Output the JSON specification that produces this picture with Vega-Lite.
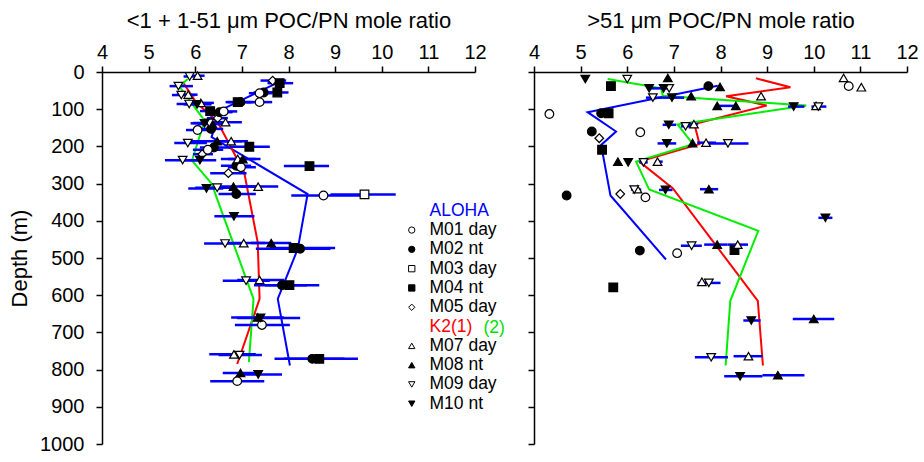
{
  "$schema": "https://vega.github.io/schema/vega-lite/v6.json",
  "autosize": {"type": "pad"},
  "padding": {"left": 8, "top": 9, "right": 5, "bottom": 5},
  "background": "white",
  "spacing": 59,
  "bounds": "flush",
  "datasets": {
    "pts": [
      {"p":"L","c":"M05 day","x":7.66,"d":23,"lo":7.40,"hi":7.95},
      {"p":"L","c":"M05 day","x":6.48,"d":124,"lo":6.25,"hi":6.70},
      {"p":"L","c":"M05 day","x":6.15,"d":221,"lo":5.95,"hi":6.38},
      {"p":"L","c":"M05 day","x":6.71,"d":272,"lo":6.32,"hi":7.10},
      {"p":"L","c":"M04 nt","x":7.81,"d":30,"lo":7.55,"hi":8.10},
      {"p":"L","c":"M04 nt","x":7.76,"d":55,"lo":7.50,"hi":8.00},
      {"p":"L","c":"M04 nt","x":6.91,"d":81,"lo":6.65,"hi":7.20},
      {"p":"L","c":"M04 nt","x":6.32,"d":105,"lo":6.10,"hi":6.55},
      {"p":"L","c":"M04 nt","x":7.16,"d":201,"lo":6.75,"hi":7.60},
      {"p":"L","c":"M04 nt","x":8.45,"d":253,"lo":7.90,"hi":8.87},
      {"p":"L","c":"M04 nt","x":8.11,"d":473,"lo":7.60,"hi":9.00},
      {"p":"L","c":"M04 nt","x":8.02,"d":573,"lo":7.50,"hi":8.66},
      {"p":"L","c":"M04 nt","x":8.66,"d":771,"lo":7.90,"hi":9.49},
      {"p":"L","c":"M02 nt","x":7.47,"d":55,"lo":7.25,"hi":7.75},
      {"p":"L","c":"M02 nt","x":6.97,"d":81,"lo":6.70,"hi":7.25},
      {"p":"L","c":"M02 nt","x":6.52,"d":108,"lo":6.25,"hi":6.80},
      {"p":"L","c":"M02 nt","x":6.34,"d":153,"lo":6.05,"hi":6.60},
      {"p":"L","c":"M02 nt","x":6.40,"d":203,"lo":6.10,"hi":6.75},
      {"p":"L","c":"M02 nt","x":6.88,"d":252,"lo":6.55,"hi":7.20},
      {"p":"L","c":"M02 nt","x":6.88,"d":328,"lo":6.50,"hi":7.30},
      {"p":"L","c":"M02 nt","x":8.25,"d":475,"lo":7.30,"hi":8.90},
      {"p":"L","c":"M02 nt","x":7.86,"d":573,"lo":7.26,"hi":8.40},
      {"p":"L","c":"M02 nt","x":8.51,"d":771,"lo":7.70,"hi":9.20},
      {"p":"L","c":"M01 day","x":7.38,"d":57,"lo":7.15,"hi":7.65},
      {"p":"L","c":"M01 day","x":7.38,"d":81,"lo":7.10,"hi":7.65},
      {"p":"L","c":"M01 day","x":6.61,"d":106,"lo":6.35,"hi":6.90},
      {"p":"L","c":"M01 day","x":6.05,"d":156,"lo":5.80,"hi":6.35},
      {"p":"L","c":"M01 day","x":6.27,"d":209,"lo":5.95,"hi":6.60},
      {"p":"L","c":"M01 day","x":6.98,"d":256,"lo":6.70,"hi":7.30},
      {"p":"L","c":"M01 day","x":8.75,"d":332,"lo":8.06,"hi":9.60},
      {"p":"L","c":"M01 day","x":7.43,"d":680,"lo":6.85,"hi":8.03},
      {"p":"L","c":"M01 day","x":6.90,"d":831,"lo":6.32,"hi":7.48},
      {"p":"L","c":"M03 day","x":9.63,"d":329,"lo":8.90,"hi":10.30},
      {"p":"L","c":"M07 day","x":6.05,"d":10,"lo":5.85,"hi":6.20},
      {"p":"L","c":"M07 day","x":5.85,"d":61,"lo":5.60,"hi":6.05},
      {"p":"L","c":"M07 day","x":6.12,"d":83,"lo":5.85,"hi":6.40},
      {"p":"L","c":"M07 day","x":6.65,"d":135,"lo":6.35,"hi":7.00},
      {"p":"L","c":"M07 day","x":6.77,"d":186,"lo":6.40,"hi":7.13},
      {"p":"L","c":"M07 day","x":6.91,"d":234,"lo":6.55,"hi":7.30},
      {"p":"L","c":"M07 day","x":7.35,"d":308,"lo":6.95,"hi":7.78},
      {"p":"L","c":"M07 day","x":7.04,"d":460,"lo":6.60,"hi":7.50},
      {"p":"L","c":"M07 day","x":7.38,"d":559,"lo":6.90,"hi":7.91},
      {"p":"L","c":"M07 day","x":6.83,"d":759,"lo":6.30,"hi":7.30},
      {"p":"L","c":"M08 nt","x":6.37,"d":140,"lo":6.05,"hi":6.70},
      {"p":"L","c":"M08 nt","x":6.47,"d":186,"lo":5.90,"hi":7.00},
      {"p":"L","c":"M08 nt","x":7.02,"d":234,"lo":6.70,"hi":7.40},
      {"p":"L","c":"M08 nt","x":6.82,"d":308,"lo":6.40,"hi":7.30},
      {"p":"L","c":"M08 nt","x":7.63,"d":460,"lo":7.20,"hi":8.06},
      {"p":"L","c":"M08 nt","x":7.34,"d":660,"lo":6.77,"hi":7.90},
      {"p":"L","c":"M08 nt","x":6.97,"d":809,"lo":6.59,"hi":7.40},
      {"p":"L","c":"M09 day","x":5.88,"d":12,"lo":5.75,"hi":6.10},
      {"p":"L","c":"M09 day","x":5.64,"d":38,"lo":5.45,"hi":5.95},
      {"p":"L","c":"M09 day","x":5.70,"d":62,"lo":5.50,"hi":6.00},
      {"p":"L","c":"M09 day","x":5.87,"d":86,"lo":5.60,"hi":6.20},
      {"p":"L","c":"M09 day","x":6.30,"d":137,"lo":5.95,"hi":6.65},
      {"p":"L","c":"M09 day","x":5.84,"d":191,"lo":5.55,"hi":6.25},
      {"p":"L","c":"M09 day","x":5.73,"d":237,"lo":5.35,"hi":6.10},
      {"p":"L","c":"M09 day","x":6.47,"d":311,"lo":6.00,"hi":6.90},
      {"p":"L","c":"M09 day","x":6.64,"d":461,"lo":6.19,"hi":7.10},
      {"p":"L","c":"M09 day","x":7.09,"d":561,"lo":6.59,"hi":7.60},
      {"p":"L","c":"M09 day","x":6.95,"d":761,"lo":6.50,"hi":7.43},
      {"p":"L","c":"M10 nt","x":6.04,"d":87,"lo":5.75,"hi":6.35},
      {"p":"L","c":"M10 nt","x":6.20,"d":138,"lo":5.90,"hi":6.50},
      {"p":"L","c":"M10 nt","x":6.10,"d":237,"lo":5.75,"hi":6.45},
      {"p":"L","c":"M10 nt","x":6.24,"d":313,"lo":5.85,"hi":6.60},
      {"p":"L","c":"M10 nt","x":6.83,"d":388,"lo":6.41,"hi":7.27},
      {"p":"L","c":"M10 nt","x":7.40,"d":661,"lo":6.90,"hi":8.25},
      {"p":"L","c":"M10 nt","x":7.35,"d":813,"lo":6.90,"hi":7.86},
      {"p":"R","c":"M01 day","x":10.75,"d":38,"lo":null,"hi":null},
      {"p":"R","c":"M01 day","x":4.33,"d":113,"lo":null,"hi":null},
      {"p":"R","c":"M01 day","x":6.28,"d":162,"lo":null,"hi":null},
      {"p":"R","c":"M01 day","x":6.39,"d":337,"lo":null,"hi":null},
      {"p":"R","c":"M01 day","x":7.07,"d":487,"lo":null,"hi":null},
      {"p":"R","c":"M02 nt","x":7.74,"d":38,"lo":null,"hi":null},
      {"p":"R","c":"M02 nt","x":5.44,"d":111,"lo":null,"hi":null},
      {"p":"R","c":"M02 nt","x":5.24,"d":160,"lo":null,"hi":null},
      {"p":"R","c":"M02 nt","x":4.70,"d":332,"lo":null,"hi":null},
      {"p":"R","c":"M02 nt","x":6.27,"d":480,"lo":null,"hi":null},
      {"p":"R","c":"M04 nt","x":5.65,"d":38,"lo":null,"hi":null},
      {"p":"R","c":"M04 nt","x":5.60,"d":111,"lo":null,"hi":null},
      {"p":"R","c":"M04 nt","x":5.46,"d":209,"lo":null,"hi":null},
      {"p":"R","c":"M04 nt","x":8.30,"d":479,"lo":null,"hi":null},
      {"p":"R","c":"M04 nt","x":5.70,"d":579,"lo":null,"hi":null},
      {"p":"R","c":"M05 day","x":5.40,"d":178,"lo":null,"hi":null},
      {"p":"R","c":"M05 day","x":5.85,"d":328,"lo":null,"hi":null},
      {"p":"R","c":"M07 day","x":10.64,"d":16,"lo":null,"hi":null},
      {"p":"R","c":"M07 day","x":11.02,"d":41,"lo":null,"hi":null},
      {"p":"R","c":"M07 day","x":8.87,"d":65,"lo":null,"hi":null},
      {"p":"R","c":"M07 day","x":10.05,"d":91,"lo":null,"hi":null},
      {"p":"R","c":"M07 day","x":7.43,"d":140,"lo":7.30,"hi":7.52},
      {"p":"R","c":"M07 day","x":7.69,"d":190,"lo":7.50,"hi":7.90},
      {"p":"R","c":"M07 day","x":6.65,"d":241,"lo":6.60,"hi":6.76},
      {"p":"R","c":"M07 day","x":6.22,"d":315,"lo":null,"hi":null},
      {"p":"R","c":"M07 day","x":8.37,"d":464,"lo":8.15,"hi":8.59},
      {"p":"R","c":"M07 day","x":7.60,"d":564,"lo":null,"hi":null},
      {"p":"R","c":"M07 day","x":8.60,"d":764,"lo":8.28,"hi":8.90},
      {"p":"R","c":"M08 nt","x":6.87,"d":16,"lo":null,"hi":null},
      {"p":"R","c":"M08 nt","x":7.99,"d":40,"lo":null,"hi":null},
      {"p":"R","c":"M08 nt","x":7.37,"d":65,"lo":null,"hi":null},
      {"p":"R","c":"M08 nt","x":7.93,"d":91,"lo":7.90,"hi":8.35},
      {"p":"R","c":"M08 nt","x":8.33,"d":91,"lo":null,"hi":null},
      {"p":"R","c":"M08 nt","x":7.40,"d":191,"lo":null,"hi":null},
      {"p":"R","c":"M08 nt","x":5.80,"d":241,"lo":null,"hi":null},
      {"p":"R","c":"M08 nt","x":7.75,"d":315,"lo":7.56,"hi":7.95},
      {"p":"R","c":"M08 nt","x":7.93,"d":464,"lo":7.65,"hi":8.15},
      {"p":"R","c":"M08 nt","x":10.00,"d":664,"lo":9.55,"hi":10.44},
      {"p":"R","c":"M08 nt","x":9.23,"d":815,"lo":8.90,"hi":9.80},
      {"p":"R","c":"M09 day","x":6.00,"d":19,"lo":null,"hi":null},
      {"p":"R","c":"M09 day","x":6.90,"d":44,"lo":null,"hi":null},
      {"p":"R","c":"M09 day","x":6.55,"d":69,"lo":6.40,"hi":6.75},
      {"p":"R","c":"M09 day","x":10.10,"d":93,"lo":9.95,"hi":10.27},
      {"p":"R","c":"M09 day","x":7.25,"d":146,"lo":7.15,"hi":7.40},
      {"p":"R","c":"M09 day","x":8.16,"d":192,"lo":7.75,"hi":8.60},
      {"p":"R","c":"M09 day","x":6.35,"d":243,"lo":6.26,"hi":6.44},
      {"p":"R","c":"M09 day","x":6.15,"d":316,"lo":6.08,"hi":6.30},
      {"p":"R","c":"M09 day","x":7.38,"d":467,"lo":7.15,"hi":7.60},
      {"p":"R","c":"M09 day","x":7.75,"d":567,"lo":7.51,"hi":8.00},
      {"p":"R","c":"M09 day","x":7.80,"d":767,"lo":7.45,"hi":8.16},
      {"p":"R","c":"M10 nt","x":5.10,"d":19,"lo":null,"hi":null},
      {"p":"R","c":"M10 nt","x":6.47,"d":44,"lo":null,"hi":null},
      {"p":"R","c":"M10 nt","x":6.78,"d":44,"lo":6.47,"hi":6.90},
      {"p":"R","c":"M10 nt","x":6.96,"d":69,"lo":6.75,"hi":7.22},
      {"p":"R","c":"M10 nt","x":9.57,"d":93,"lo":9.45,"hi":9.80},
      {"p":"R","c":"M10 nt","x":6.89,"d":142,"lo":6.76,"hi":7.05},
      {"p":"R","c":"M10 nt","x":6.85,"d":192,"lo":6.65,"hi":7.05},
      {"p":"R","c":"M10 nt","x":6.02,"d":243,"lo":null,"hi":null},
      {"p":"R","c":"M10 nt","x":6.82,"d":317,"lo":6.68,"hi":6.97},
      {"p":"R","c":"M10 nt","x":10.25,"d":392,"lo":10.10,"hi":10.40},
      {"p":"R","c":"M10 nt","x":8.66,"d":668,"lo":8.49,"hi":8.86},
      {"p":"R","c":"M10 nt","x":8.42,"d":818,"lo":8.08,"hi":8.90}
    ],
    "lns": [
      {"p":"L","g":"ALOHA","x":7.78,"d":28},
      {"p":"L","g":"ALOHA","x":6.52,"d":104},
      {"p":"L","g":"ALOHA","x":6.35,"d":175},
      {"p":"L","g":"ALOHA","x":8.41,"d":328},
      {"p":"L","g":"ALOHA","x":8.20,"d":475},
      {"p":"L","g":"ALOHA","x":7.77,"d":610},
      {"p":"L","g":"ALOHA","x":8.03,"d":789},
      {"p":"L","g":"K2(1)","x":5.75,"d":30},
      {"p":"L","g":"K2(1)","x":6.02,"d":82},
      {"p":"L","g":"K2(1)","x":6.38,"d":122},
      {"p":"L","g":"K2(1)","x":6.52,"d":144},
      {"p":"L","g":"K2(1)","x":7.05,"d":270},
      {"p":"L","g":"K2(1)","x":7.34,"d":458},
      {"p":"L","g":"K2(1)","x":7.38,"d":610},
      {"p":"L","g":"K2(1)","x":6.90,"d":785},
      {"p":"L","g":"K2(2)","x":5.84,"d":19},
      {"p":"L","g":"K2(2)","x":5.66,"d":39},
      {"p":"L","g":"K2(2)","x":5.87,"d":75},
      {"p":"L","g":"K2(2)","x":6.20,"d":131},
      {"p":"L","g":"K2(2)","x":5.93,"d":238},
      {"p":"L","g":"K2(2)","x":6.35,"d":300},
      {"p":"L","g":"K2(2)","x":7.25,"d":610},
      {"p":"L","g":"K2(2)","x":7.15,"d":780},
      {"p":"R","g":"ALOHA","x":7.94,"d":37},
      {"p":"R","g":"ALOHA","x":5.15,"d":108},
      {"p":"R","g":"ALOHA","x":5.76,"d":160},
      {"p":"R","g":"ALOHA","x":5.44,"d":196},
      {"p":"R","g":"ALOHA","x":5.64,"d":332},
      {"p":"R","g":"ALOHA","x":6.83,"d":504},
      {"p":"R","g":"K2(1)","x":8.76,"d":17},
      {"p":"R","g":"K2(1)","x":9.50,"d":41},
      {"p":"R","g":"K2(1)","x":8.12,"d":65},
      {"p":"R","g":"K2(1)","x":8.99,"d":90},
      {"p":"R","g":"K2(1)","x":7.44,"d":140},
      {"p":"R","g":"K2(1)","x":7.55,"d":194},
      {"p":"R","g":"K2(1)","x":6.26,"d":241},
      {"p":"R","g":"K2(1)","x":6.98,"d":313},
      {"p":"R","g":"K2(1)","x":8.80,"d":615},
      {"p":"R","g":"K2(1)","x":8.91,"d":789},
      {"p":"R","g":"K2(2)","x":5.58,"d":19},
      {"p":"R","g":"K2(2)","x":6.73,"d":44},
      {"p":"R","g":"K2(2)","x":6.76,"d":64},
      {"p":"R","g":"K2(2)","x":9.84,"d":90},
      {"p":"R","g":"K2(2)","x":7.08,"d":141},
      {"p":"R","g":"K2(2)","x":7.41,"d":194},
      {"p":"R","g":"K2(2)","x":6.19,"d":241},
      {"p":"R","g":"K2(2)","x":6.47,"d":316},
      {"p":"R","g":"K2(2)","x":8.81,"d":427},
      {"p":"R","g":"K2(2)","x":8.21,"d":615},
      {"p":"R","g":"K2(2)","x":8.11,"d":789}
    ]
  },
  "hconcat": [
    {
      "width": 373,
      "height": 372,
      "encoding": {
        "x": {"field": "x", "type": "quantitative", "scale": {"domain": [4, 12], "nice": false, "zero": false},
              "axis": {"orient": "top", "values": [4,5,6,7,8,9,10,11,12], "title": "<1 + 1-51 μm POC/PN mole ratio", "titlePadding": 10, "labelFlush": false, "labelOverlap": false}},
        "y": {"field": "d", "type": "quantitative", "scale": {"domain": [0, 1000], "reverse": true, "nice": false, "zero": false},
              "axis": {"values": [0,100,200,300,400,500,600,700,800,900,1000], "format": "d", "title": "Depth (m)", "labelPadding": 12, "labelFlush": false, "labelOverlap": false, "titlePadding": 8}}
      },
      "layer": [
        {
          "data": {"name": "lns"},
          "transform": [{"filter": "datum.p === 'L'"}],
          "mark": {"type": "line", "strokeWidth": 2},
          "encoding": {
            "color": {"field": "g", "type": "nominal", "scale": {"domain": ["ALOHA", "K2(1)", "K2(2)"], "range": ["#0000ff", "#ff0000", "#00ee00"]},
                      "legend": {"values": ["K2(2)"], "labelExpr": "'(2)'", "title": null, "orient": "none", "legendX": 364, "legendY": 247, "symbolOpacity": 0, "symbolSize": 1, "labelOffset": 0, "labelColor": "#00e000", "labelFontSize": 17.5, "labelFont": "Liberation Sans"}},
            "order": {"field": "d", "type": "quantitative"}
          }
        },
        {
          "data": {"name": "pts"},
          "transform": [{"filter": "datum.p === 'L' && isValid(datum.lo)"}],
          "mark": {"type": "rule", "color": "#0000ff", "strokeWidth": 2.5},
          "encoding": {
            "x": {"field": "lo", "type": "quantitative", "scale": {"domain": [4, 12], "nice": false, "zero": false}},
            "x2": {"field": "hi"}
          }
        },
        {
          "data": {"name": "pts"},
          "transform": [{"filter": "datum.p === 'L'"}],
          "mark": {"type": "point", "filled": true, "opacity": 1, "size": 75, "strokeWidth": 1.2},
          "encoding": {
            "shape": {"field": "c", "type": "nominal",
              "scale": {"domain": ["ALOHA","M01 day","M02 nt","M03 day","M04 nt","M05 day","K2(1)","M07 day","M08 nt","M09 day","M10 nt"],
                        "range": ["circle","circle","circle","square","square","diamond","circle","triangle-up","triangle-up","triangle-down","triangle-down"]},
              "legend": {"title": null, "orient": "none", "legendX": 301, "legendY": 130, "labelFontSize": 17.5, "labelFont": "Liberation Sans", "symbolSize": 40, "symbolStrokeWidth": 1, "labelOffset": 9, "rowPadding": 0.3,
                "labelColor": {"expr": "datum.label === 'ALOHA' ? '#0000ff' : datum.label === 'K2(1)' ? '#ff0000' : '#000000'"}}},
            "fill": {"field": "c", "type": "nominal",
              "scale": {"domain": ["ALOHA","M01 day","M02 nt","M03 day","M04 nt","M05 day","K2(1)","M07 day","M08 nt","M09 day","M10 nt"],
                        "range": ["transparent","white","black","white","black","white","transparent","white","black","white","black"]},
              "legend": {"title": null, "orient": "none", "legendX": 301, "legendY": 130, "labelFontSize": 17.5, "labelFont": "Liberation Sans", "symbolSize": 40, "symbolStrokeWidth": 1, "labelOffset": 9, "rowPadding": 0.3,
                "labelColor": {"expr": "datum.label === 'ALOHA' ? '#0000ff' : datum.label === 'K2(1)' ? '#ff0000' : '#000000'"}}},
            "stroke": {"field": "c", "type": "nominal",
              "scale": {"domain": ["ALOHA","M01 day","M02 nt","M03 day","M04 nt","M05 day","K2(1)","M07 day","M08 nt","M09 day","M10 nt"],
                        "range": ["transparent","black","black","black","black","black","transparent","black","black","black","black"]},
              "legend": {"title": null, "orient": "none", "legendX": 301, "legendY": 130, "labelFontSize": 17.5, "labelFont": "Liberation Sans", "symbolSize": 40, "symbolStrokeWidth": 1, "labelOffset": 9, "rowPadding": 0.3,
                "labelColor": {"expr": "datum.label === 'ALOHA' ? '#0000ff' : datum.label === 'K2(1)' ? '#ff0000' : '#000000'"}}}
          }
        }
      ]
    },
    {
      "width": 373,
      "height": 372,
      "encoding": {
        "x": {"field": "x", "type": "quantitative", "scale": {"domain": [4, 12], "nice": false, "zero": false},
              "axis": {"orient": "top", "values": [4,5,6,7,8,9,10,11,12], "title": ">51 μm POC/PN mole ratio", "titlePadding": 10, "labelFlush": false, "labelOverlap": false}},
        "y": {"field": "d", "type": "quantitative", "scale": {"domain": [0, 1000], "reverse": true, "nice": false, "zero": false},
              "axis": {"values": [0,100,200,300,400,500,600,700,800,900,1000], "title": null, "labels": false}}
      },
      "layer": [
        {
          "data": {"name": "lns"},
          "transform": [{"filter": "datum.p === 'R'"}],
          "mark": {"type": "line", "strokeWidth": 2},
          "encoding": {
            "color": {"field": "g", "type": "nominal", "scale": {"domain": ["ALOHA", "K2(1)", "K2(2)"], "range": ["#0000ff", "#ff0000", "#00ee00"]},
                      "legend": {"values": ["K2(2)"], "labelExpr": "'(2)'", "title": null, "orient": "none", "legendX": 364, "legendY": 247, "symbolOpacity": 0, "symbolSize": 1, "labelOffset": 0, "labelColor": "#00e000", "labelFontSize": 17.5, "labelFont": "Liberation Sans"}},
            "order": {"field": "d", "type": "quantitative"}
          }
        },
        {
          "data": {"name": "pts"},
          "transform": [{"filter": "datum.p === 'R' && isValid(datum.lo)"}],
          "mark": {"type": "rule", "color": "#0000ff", "strokeWidth": 2.5},
          "encoding": {
            "x": {"field": "lo", "type": "quantitative", "scale": {"domain": [4, 12], "nice": false, "zero": false}},
            "x2": {"field": "hi"}
          }
        },
        {
          "data": {"name": "pts"},
          "transform": [{"filter": "datum.p === 'R'"}],
          "mark": {"type": "point", "filled": true, "opacity": 1, "size": 75, "strokeWidth": 1.2},
          "encoding": {
            "shape": {"field": "c", "type": "nominal",
              "scale": {"domain": ["ALOHA","M01 day","M02 nt","M03 day","M04 nt","M05 day","K2(1)","M07 day","M08 nt","M09 day","M10 nt"],
                        "range": ["circle","circle","circle","square","square","diamond","circle","triangle-up","triangle-up","triangle-down","triangle-down"]},
              "legend": {"title": null, "orient": "none", "legendX": 301, "legendY": 130, "labelFontSize": 17.5, "labelFont": "Liberation Sans", "symbolSize": 40, "symbolStrokeWidth": 1, "labelOffset": 9, "rowPadding": 0.3,
                "labelColor": {"expr": "datum.label === 'ALOHA' ? '#0000ff' : datum.label === 'K2(1)' ? '#ff0000' : '#000000'"}}},
            "fill": {"field": "c", "type": "nominal",
              "scale": {"domain": ["ALOHA","M01 day","M02 nt","M03 day","M04 nt","M05 day","K2(1)","M07 day","M08 nt","M09 day","M10 nt"],
                        "range": ["transparent","white","black","white","black","white","transparent","white","black","white","black"]},
              "legend": {"title": null, "orient": "none", "legendX": 301, "legendY": 130, "labelFontSize": 17.5, "labelFont": "Liberation Sans", "symbolSize": 40, "symbolStrokeWidth": 1, "labelOffset": 9, "rowPadding": 0.3,
                "labelColor": {"expr": "datum.label === 'ALOHA' ? '#0000ff' : datum.label === 'K2(1)' ? '#ff0000' : '#000000'"}}},
            "stroke": {"field": "c", "type": "nominal",
              "scale": {"domain": ["ALOHA","M01 day","M02 nt","M03 day","M04 nt","M05 day","K2(1)","M07 day","M08 nt","M09 day","M10 nt"],
                        "range": ["transparent","black","black","black","black","black","transparent","black","black","black","black"]},
              "legend": {"title": null, "orient": "none", "legendX": 301, "legendY": 130, "labelFontSize": 17.5, "labelFont": "Liberation Sans", "symbolSize": 40, "symbolStrokeWidth": 1, "labelOffset": 9, "rowPadding": 0.3,
                "labelColor": {"expr": "datum.label === 'ALOHA' ? '#0000ff' : datum.label === 'K2(1)' ? '#ff0000' : '#000000'"}}}
          }
        }
      ]
    }
  ],
  "config": {
    "font": "Liberation Sans",
    "view": {"stroke": null},
    "axis": {
      "domainColor": "black", "domainWidth": 1.5, "tickColor": "black", "tickWidth": 1.5, "tickSize": 6,
      "labelFont": "Liberation Sans", "labelFontSize": 20, "labelColor": "black", "labelPadding": 4,
      "titleFont": "Liberation Sans", "titleFontSize": 22, "titleFontWeight": "normal", "titleColor": "black",
      "grid": false
    }
  }
}
